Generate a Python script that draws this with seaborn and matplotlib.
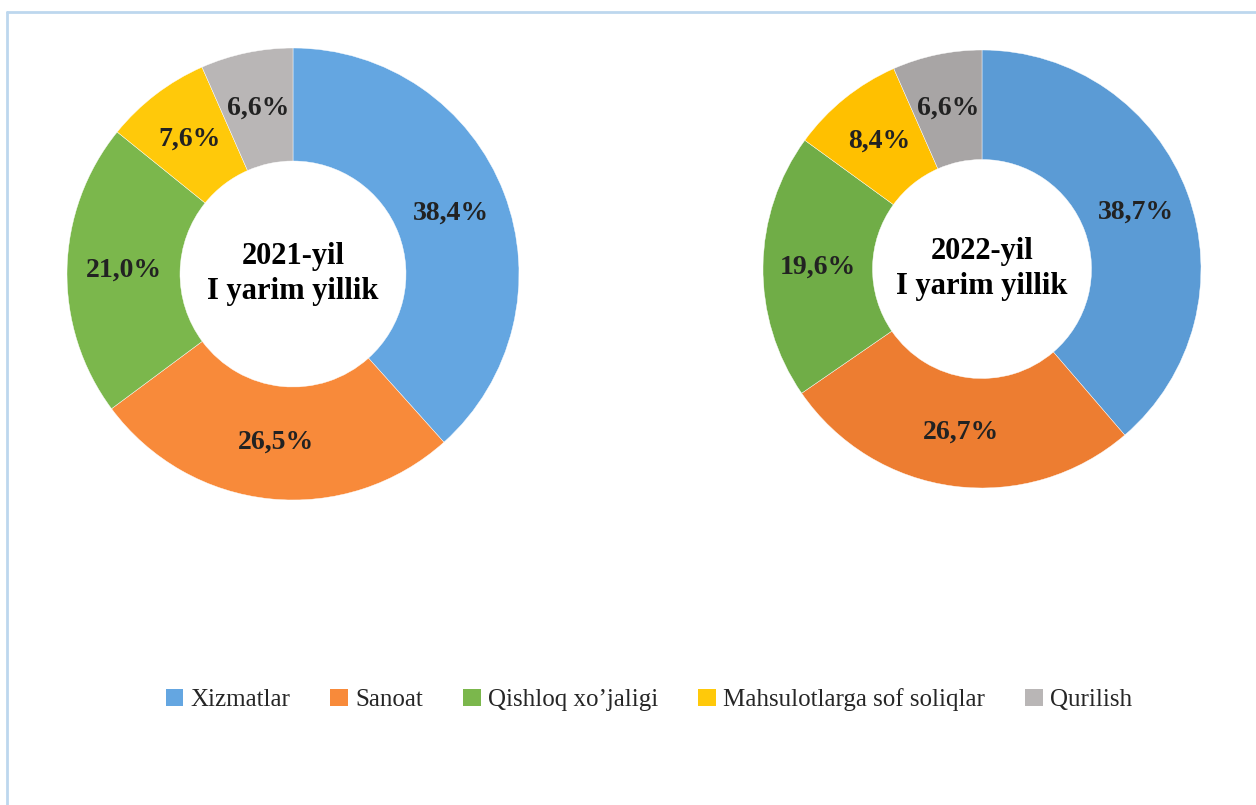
import matplotlib
matplotlib.use("Agg")
import numpy as np
import matplotlib.pyplot as plt
import seaborn as sns
from matplotlib.patches import Patch

# data
categories = ["Xizmatlar", "Sanoat", "Qishloq xo\u2019jaligi", "Mahsulotlarga sof soliqlar", "Qurilish"]
values_2021 = [38.4, 26.5, 21.0, 7.6, 6.6]
values_2022 = [38.7, 26.7, 19.6, 8.4, 6.6]
labels_2021 = ["38,4%", "26,5%", "21,0%", "7,6%", "6,6%"]
labels_2022 = ["38,7%", "26,7%", "19,6%", "8,4%", "6,6%"]
titles = ["2021-yil\nI yarim yillik", "2022-yil\nI yarim yillik"]

colors_2021 = ["#64A6E1", "#F88A3A", "#7BB74C", "#FFC90A", "#B9B6B6"]
colors_2022 = ["#5B9BD5", "#ED7D31", "#70AD47", "#FFC000", "#A8A5A5"]

sns.set_theme(style="white")
plt.rcParams['font.family'] = ['Liberation Serif', 'DejaVu Serif']

W, H = 1256, 805
fig = plt.figure(figsize=(W / 100, H / 100), dpi=100)

# light blue frame (top and left edges visible)
fig.add_artist(plt.Line2D([7 / W, 7 / W], [0, 1 - 12 / H], color="#BDD7EE", lw=2))
fig.add_artist(plt.Line2D([7 / W, 1], [1 - 12 / H, 1 - 12 / H], color="#BDD7EE", lw=2))


def donut(cx, cy, r, vals, labs, cols, title):
    ax = fig.add_axes([(cx - r) / W, 1 - (cy + r) / H, 2 * r / W, 2 * r / H])
    ax.pie(vals, colors=cols, startangle=90, counterclock=False, radius=1.0,
           wedgeprops=dict(width=0.5, edgecolor="white", linewidth=0.3))
    total = sum(vals)
    start = 90.0
    for v, lab in zip(vals, labs):
        mid = np.deg2rad(start - v / total * 360 / 2)
        ax.text(0.75 * np.cos(mid), 0.75 * np.sin(mid), lab, ha="center", va="center",
                fontsize=20, fontweight="bold", color="#222222")
        start -= v / total * 360
    ax.text(0, 0, title, ha="center", va="center", fontsize=22, fontweight="bold",
            color="black", linespacing=1.3)
    ax.set_xlim(-1, 1)
    ax.set_ylim(-1, 1)
    ax.set_aspect("equal")
    ax.axis("off")


donut(293, 274, 226, values_2021, labels_2021, colors_2021, titles[0])
donut(982, 269, 219, values_2022, labels_2022, colors_2022, titles[1])

handles = [Patch(facecolor=c, edgecolor="none") for c in colors_2021]
fig.legend(handles, categories, loc="center", bbox_to_anchor=(649 / W, 1 - 700 / H),
           ncol=5, frameon=False, fontsize=18, handlelength=0.7, handleheight=0.7,
           handletextpad=0.3, columnspacing=1.6)

fig.savefig("out.png", dpi=100)
